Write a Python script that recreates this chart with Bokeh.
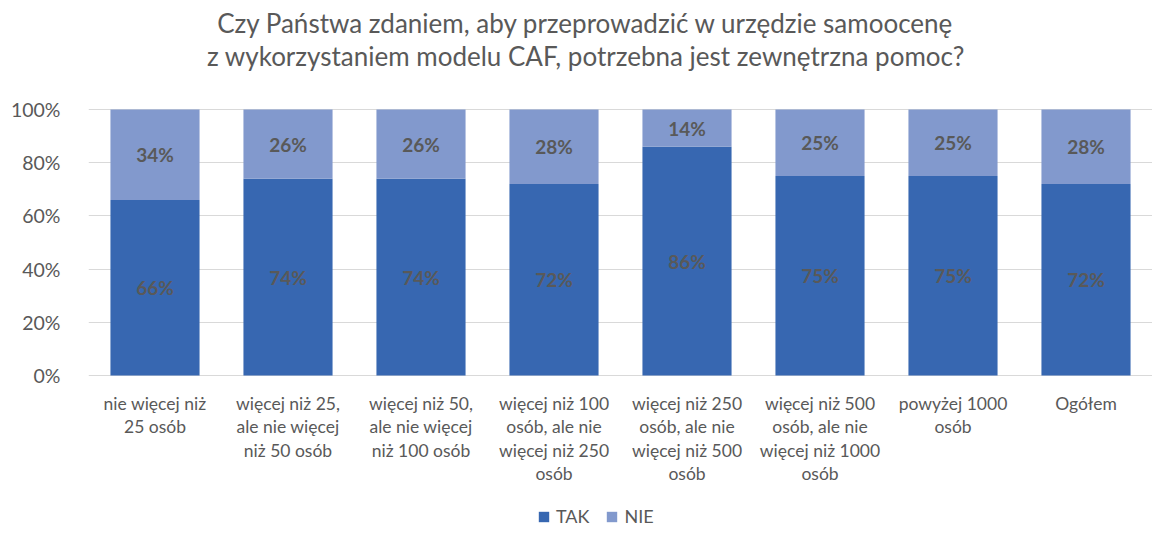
from bokeh.plotting import figure
from bokeh.models import ColumnDataSource, Legend, LegendItem, FixedTicker
from bokeh.core.properties import value
from bokeh.embed import file_html
from bokeh.resources import INLINE

categories = [
    "nie więcej niż\n25 osób",
    "więcej niż 25,\nale nie więcej\nniż 50 osób",
    "więcej niż 50,\nale nie więcej\nniż 100 osób",
    "więcej niż 100\nosób, ale nie\nwięcej niż 250\nosób",
    "więcej niż 250\nosób, ale nie\nwięcej niż 500\nosób",
    "więcej niż 500\nosób, ale nie\nwięcej niż 1000\nosób",
    "powyżej 1000\nosób",
    "Ogółem",
]
tak = [66, 74, 74, 72, 86, 75, 75, 72]
nie = [34, 26, 26, 28, 14, 25, 25, 28]
series = ["TAK", "NIE"]
colors = ["#3767B1", "#8299CD"]
title_lines = ["Czy Państwa zdaniem, aby przeprowadzić w urzędzie samoocenę",
               "z wykorzystaniem modelu CAF, potrzebna jest zewnętrzna pomoc?"]
y_ticks = [0, 20, 40, 60, 80, 100]

FONT = "Lato"
GRAY = "#595959"

# layout constants (pixels -> data units)
PX = 2.66                 # pixels per percentage point
FRAME_H = 527
TOP_PX = 109              # 100% line from top of figure
Y_MAX = 100 + TOP_PX / PX
Y_MIN = 100 - (FRAME_H - TOP_PX) / PX

src = ColumnDataSource(dict(
    cat=categories, TAK=tak, NIE=nie,
    tak_lbl=[f"{v}%" for v in tak], nie_lbl=[f"{v}%" for v in nie],
    tak_mid=[v / 2 for v in tak],
    nie_mid=[t + n / 2 for t, n in zip(tak, nie)],
    cat_y=[-6.5] * len(categories),
))

p = figure(x_range=categories, y_range=(Y_MIN, Y_MAX), frame_width=1064, frame_height=FRAME_H,
           output_backend="svg", toolbar_location=None,
           min_border_left=88, min_border_right=0, min_border_top=0, min_border_bottom=0)

r = p.vbar_stack(series, x="cat", width=0.67, color=colors, source=src, line_color=None)

lbl_kw = dict(source=src, text_align="center", text_baseline="middle", text_font=value(FONT),
              text_font_size="19px", text_font_style="bold", text_color=GRAY)
p.text(x="cat", y="tak_mid", text="tak_lbl", **lbl_kw)
p.text(x="cat", y="nie_mid", text="nie_lbl", **lbl_kw)

# category labels (multi-line)
p.text(x="cat", y="cat_y", text="cat", source=src, text_align="center", text_baseline="top",
       text_font=value(FONT), text_font_size="17.5px", text_color=GRAY, text_line_height=1.12)

# title
tsrc = ColumnDataSource(dict(x=[3.74, 3.74], y=[Y_MAX - 22 / PX, Y_MAX - 55 / PX], t=title_lines))
p.text(x="x", y="y", text="t", source=tsrc, text_align="center", text_baseline="middle",
       text_font=value(FONT), text_font_size="26px", text_color=GRAY)

p.yaxis.ticker = FixedTicker(ticks=y_ticks)
p.yaxis.major_label_overrides = {v: f"{v}%" for v in y_ticks}
p.yaxis.axis_line_color = None
p.yaxis.major_tick_line_color = None
p.yaxis.minor_tick_line_color = None
p.yaxis.major_label_text_font = FONT
p.yaxis.major_label_text_color = GRAY
p.yaxis.major_label_text_font_size = "19.5px"
p.yaxis.major_label_standoff = 22
p.xaxis.visible = False

p.xgrid.grid_line_color = None
p.ygrid.grid_line_color = "#D9D9D9"
p.ygrid.grid_line_width = 1
p.outline_line_color = None

legend = Legend(items=[LegendItem(label=s, renderers=[rr]) for s, rr in zip(series, r)],
                orientation="horizontal", location=(449, 0),
                label_text_font=FONT, label_text_font_size="18px", label_text_color=GRAY,
                glyph_width=13, glyph_height=13, spacing=16, label_standoff=6,
                border_line_color=None, background_fill_alpha=0, margin=0, padding=2)
p.add_layout(legend)

open("out.html", "w").write(file_html(p, INLINE))
